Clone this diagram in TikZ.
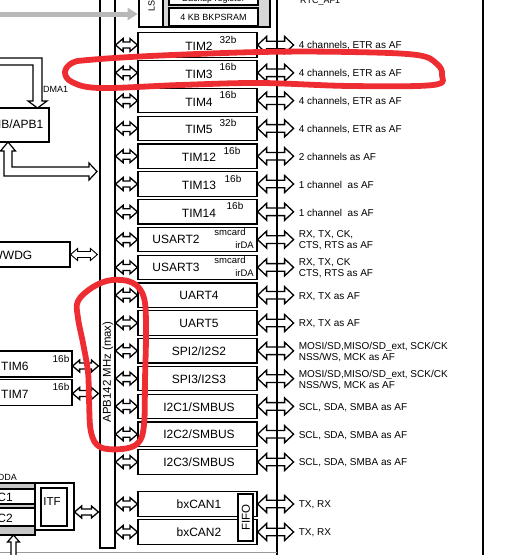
\documentclass[tikz,border=0pt]{standalone}
\usepackage{fontspec}
\setmainfont{Liberation Sans}
\usetikzlibrary{calc}
\definecolor{annotred}{RGB}{238,45,50}
\begin{document}
\begin{tikzpicture}[x=1pt,y=-1pt,
 pbox/.style={draw, line width=1.2pt, minimum width=119pt, minimum height=24.5pt, inner sep=0pt},
 gbox/.style={draw, line width=1.2pt, inner sep=0pt},
 mlbl/.style={font=\fontsize{12}{12}\selectfont, inner sep=0pt},
 blbl/.style={font=\fontsize{10}{10}\selectfont, inner sep=0pt},
 slbl/.style={font=\fontsize{9}{9}\selectfont, inner sep=0pt},
 rlbl/.style={anchor=west, align=left, font=\fontsize{10}{11}\selectfont, inner sep=0pt},
 hollow/.style n args={3}{line width=1.3pt, line join=miter, to path={let \p1=(\tikztostart), \p2=(\tikztotarget) in (\x1,\y1) -- (\x1+#3,\y1+#2) -- (\x1+#3,\y1+#1) -- (\x2-#3,\y1+#1) -- (\x2-#3,\y1+#2) -- (\x2,\y1) -- (\x2-#3,\y1-#2) -- (\x2-#3,\y1-#1) -- (\x1+#3,\y1-#1) -- (\x1+#3,\y1-#2) -- cycle}},
 larr/.style={hollow={3pt}{6.5pt}{7.5pt}},
 rarr/.style={hollow={3.8pt}{8.5pt}{9pt}},
 sarr/.style={hollow={3pt}{6pt}{7pt}},
 annot/.style={draw=annotred, line width=5.8pt, line cap=round, line join=round}
]
\useasboundingbox (0,0) rectangle (519,555);
\clip (0,0) rectangle (519,555);

% right bus and right frame line
\coordinate (rbtop) at (277,-5);
\coordinate (rbbot) at (277,560);
\draw[line width=2.6pt] (rbtop) -- (rbbot);
\coordinate (frtop) at (483,-5);
\coordinate (frbot) at (483,560);
\draw[line width=2.6pt] (frtop) -- (frbot);

% APB bus bar
\node[gbox, minimum width=15pt, minimum height=560pt, fill=white] (apb) at (107.5,268) {};
\node[rotate=90, font=\fontsize{11.4}{11.4}\selectfont, inner sep=0pt] (apbtxt) at (108,372) {APB142 MHz (max)};

% top: gray arrow, LS, backup domain
\node[gbox, fill=black!16, minimum width=107pt, minimum height=35pt] (bkp) at (216.5,9.5) {};
\node[gbox, fill=white, minimum width=24pt, minimum height=35pt] (ls) at (151,9.5) {};
\node[rotate=90, slbl] (lstxt) at (151.5,6) {LS};
\node[gbox, fill=white, minimum width=89pt, minimum height=13pt] (bkreg) at (213.5,-1.5) {};
\node[slbl] (bkregt) at (213.5,-1) {Backup register};
\node[gbox, fill=white, minimum width=89pt, minimum height=18pt] (bkpsram) at (213.5,17) {};
\node[slbl] (bkpsramt) at (213.5,17.5) {4 KB BKPSRAM};
\coordinate (garrs) at (-2,14);
\coordinate (garre) at (128,14);
\draw[black!28, line width=5pt] (garrs) -- (garre);
\fill[black!28] (127.5,7.5) -- (137.5,14) -- (127.5,20.5) -- cycle;
\node[anchor=base west, slbl] (rtc) at (300,3) {RTC\_AF1};

% left side: AHB/APB1 bridge
\node[gbox, minimum width=60pt, minimum height=34pt] (ahb) at (19,125) {};
\node[anchor=east, mlbl] (ahbt) at (43.5,124.5) {AHB/APB1};
\draw[line width=1.2pt, line join=miter] (-2,58) -- (42,58) -- (42,101) -- (47,101) -- (37.5,108) -- (28,101) -- (33,101) -- (33,65) -- (-2,65);
\node[anchor=west, slbl] (dma) at (43,89.5) {DMA1};
\draw[line width=1.2pt, line join=miter] (8,142) -- (15.5,151) -- (12,151) -- (12,167) -- (89,167) -- (89,163) -- (97,171.5) -- (89,180) -- (89,176) -- (4,176) -- (4,151) -- (0.5,151) -- cycle;

% WWDG
\node[gbox, minimum width=80pt, minimum height=25pt] (wwdg) at (30,254.5) {};
\node[anchor=east, mlbl] (wwdgt) at (32.5,255.5) {WWDG};
\draw[sarr, line width=0.9pt] (wwdg.east) to ($(apb.west |- wwdg.east)+(-2,0)$);

% TIM6 / TIM7
\node[gbox, minimum width=82pt, minimum height=26pt] (tim6) at (31,364) {};
\node[gbox, minimum width=82pt, minimum height=26pt] (tim7) at (31,392.5) {};
\node[anchor=west, mlbl] (tim6t) at (1,366) {TIM6};
\node[anchor=west, mlbl] (tim7t) at (1,394) {TIM7};
\node[blbl] (tim6b) at (61,359) {16b};
\node[blbl] (tim7b) at (61,387) {16b};
\draw[sarr] ($(tim6.east)+(0,2)$) to ($(apb.west |- tim6.east)+(-1,2)$);
\draw[sarr] ($(tim7.east)+(0,1)$) to ($(apb.west |- tim7.east)+(-1,1)$);

% ADC / ITF
\node[anchor=east, slbl] (vdda) at (17,477) {VDDA};
\node[gbox, fill=black!22, minimum width=45pt, minimum height=52pt] (adc) at (12.5,509) {};
\node[gbox, fill=white, minimum width=45pt, minimum height=15pt] (adc1) at (12.5,496.5) {};
\node[gbox, fill=white, minimum width=45pt, minimum height=18pt] (adc2) at (12.5,517) {};
\node[anchor=east, mlbl] (adc1t) at (13,497) {ADC1};
\node[anchor=east, mlbl] (adc2t) at (13,518) {ADC2};
\node[gbox, minimum width=39pt, minimum height=47pt] (itfo) at (54.5,506.5) {};
\node[gbox, minimum width=26pt, minimum height=38pt] (itfi) at (54,507) {};
\node[font=\fontsize{11.5}{11.5}\selectfont, inner sep=0pt] (itft) at (52,502) {ITF};
\draw[sarr] ($(itfo.east)+(0,5.5)$) to ($(apb.west |- itfo.east)+(-1,5.5)$);
\draw[black!40, line width=1.2pt] (-2,552.5) -- (rbbot |- 0,552.5);
\draw[line width=1.2pt, line join=miter, fill=white] (11,560) -- (11,542) -- (7.5,542) -- (13.5,535) -- (19.5,542) -- (16,542) -- (16,560);

% timers
\foreach \nm/\yy/\txt/\bt/\bx/\af in {
 t2/45/TIM2/32b/228/{4 channels, ETR as AF},
 t3/72.8/TIM3/16b/228/{4 channels, ETR as AF},
 t4/100.6/TIM4/16b/228/{4 channels, ETR as AF},
 t5/128.4/TIM5/32b/228/{4 channels, ETR as AF},
 t12/156.2/TIM12/16b/232/{2 channels as AF},
 t13/184/TIM13/16b/233/{1 channel\ \ as AF},
 t14/211.8/TIM14/16b/235/{1 channel\ \ as AF}}
{
 \node[pbox] (\nm) at (197.5,\yy) {};
 \node[mlbl] (\nm-l) at (199,\yy+1.5) {\txt};
 \node[blbl] (\nm-b) at (\bx,\yy-5.5) {\bt};
 \draw[larr] (apb.east |- \nm.west) to (\nm.west);
 \draw[rarr] (\nm.east) to ($(\nm.east)+(36,0)$);
 \node[rlbl] (\nm-a) at ($(\nm.east)+(41,1)$) {\af};
}

% USARTs
\foreach \nm/\yy/\txt/\af in {
 us2/239.6/USART2/{RX, TX, CK,\\CTS, RTS as AF},
 us3/267.4/USART3/{RX, TX, CK\\CTS, RTS as AF}}
{
 \node[pbox] (\nm) at (197.5,\yy) {};
 \node[mlbl] (\nm-l) at (176,\yy) {\txt};
 \node[font=\fontsize{9.5}{9.5}\selectfont, inner sep=0pt] (\nm-s) at (230,\yy-7.5) {smcard};
 \node[font=\fontsize{9.5}{9.5}\selectfont, inner sep=0pt, anchor=east] (\nm-i) at (254,\yy+5.5) {irDA};
 \draw[larr] (apb.east |- \nm.west) to (\nm.west);
 \draw[rarr] (\nm.east) to ($(\nm.east)+(36,0)$);
 \node[rlbl] (\nm-a) at ($(\nm.east)+(41,1)$) {\af};
}

% other peripherals
\foreach \nm/\yy/\txt/\af in {
 u4/295.2/UART4/{RX, TX as AF},
 u5/323/UART5/{RX, TX as AF},
 s2/350.8/{SPI2/I2S2}/{MOSI/SD,MISO/SD\_ext, SCK/CK\\NSS/WS, MCK as AF},
 s3/378.6/{SPI3/I2S3}/{MOSI/SD,MISO/SD\_ext, SCK/CK\\NSS/WS, MCK as AF},
 i1/406.4/{I2C1/SMBUS}/{SCL, SDA, SMBA as AF},
 i2/434.2/{I2C2/SMBUS}/{SCL, SDA, SMBA as AF},
 i3/462/{I2C3/SMBUS}/{SCL, SDA, SMBA as AF},
 c1/504/bxCAN1/{TX, RX},
 c2/532/bxCAN2/{TX, RX}}
{
 \node[pbox] (\nm) at (197.5,\yy) {};
 \node[mlbl] (\nm-l) at (199,\yy+0.5) {\txt};
 \draw[larr] (apb.east |- \nm.west) to (\nm.west);
 \draw[rarr] (\nm.east) to ($(\nm.east)+(36,0)$);
 \node[rlbl] (\nm-a) at ($(\nm.east)+(41,1)$) {\af};
}
\node[gbox, fill=white, minimum width=15pt, minimum height=47pt] (fifo) at (245.5,517.5) {};
\node[rotate=90, font=\fontsize{11.5}{11.5}\selectfont, inner sep=0pt] (fifot) at (246,517.5) {FIFO};

% red annotations
\draw[annot] plot[smooth cycle, tension=0.6] coordinates {(88,60) (150,56) (260,52) (350,52) (417,55) (437,64) (442,75) (433,85) (350,86) (260,83) (180,85) (100,88) (72,82) (65,72) (72,63)};
\draw[annot] plot[smooth cycle, tension=0.6] coordinates {(78,301) (93,287) (112,280) (133,283) (144,298) (146,330) (145,380) (144,425) (138,443) (122,449) (100,447) (91,432) (89,400) (88,372) (83,343) (78,318)};
\end{tikzpicture}
\end{document}
